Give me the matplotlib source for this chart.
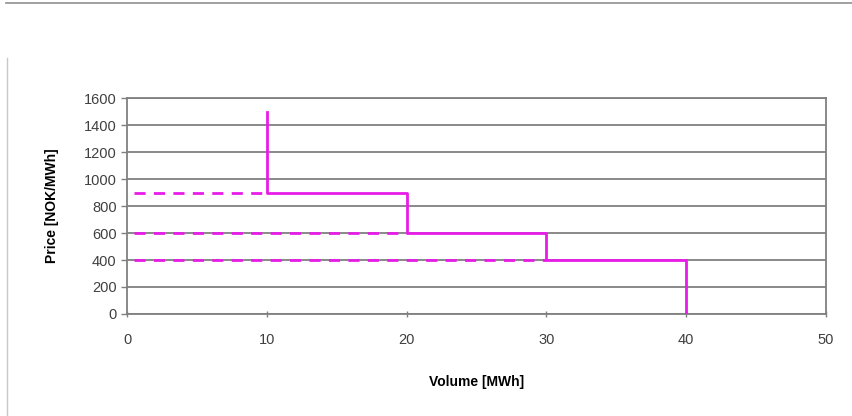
import matplotlib
matplotlib.use('Agg')
import matplotlib.pyplot as plt
from matplotlib.lines import Line2D

plt.rcParams['font.family'] = ['Liberation Sans', 'DejaVu Sans']

# supply curve steps (volume, price)
step_volume = [10, 10, 20, 20, 30, 30, 40, 40]
step_price = [1500, 900, 900, 600, 600, 400, 400, 0]

# dashed price levels and where they end
level_prices = [900, 600, 400]
level_start = 0.5
level_ends = [10, 20, 30]

x_ticks = [0, 10, 20, 30, 40, 50]
y_ticks = [0, 200, 400, 600, 800, 1000, 1200, 1400, 1600]

magenta = '#E81CE8'
grid_gray = '#808080'

fig = plt.figure(figsize=(8.53, 4.16), dpi=100)
ax = fig.add_axes([0.1489, 0.2452, 0.8194, 0.5192])

for p, end in zip(level_prices, level_ends):
    ax.plot([level_start, end], [p, p], color=magenta, lw=2.0,
            dashes=(4, 3), zorder=3)
ax.plot(step_volume, step_price, color=magenta, lw=2.0, zorder=4)

ax.set_xlim(0, 50)
ax.set_ylim(0, 1600)
ax.set_xticks(x_ticks)
ax.set_yticks(y_ticks)
ax.yaxis.grid(True, color=grid_gray, lw=1.3)
ax.set_axisbelow(True)
for s in ax.spines.values():
    s.set_color(grid_gray)
    s.set_linewidth(1.3)
ax.tick_params(axis='both', colors=grid_gray, labelcolor='#404040',
               labelsize=10.5, length=4, width=1)
ax.tick_params(axis='x', direction='inout', pad=12)

ax.set_xlabel('Volume [MWh]', fontsize=10, fontweight='bold', labelpad=20)
ax.set_ylabel('Price [NOK/MWh]', fontsize=10, fontweight='bold', labelpad=18)

# page borders from the original screenshot
fig.add_artist(Line2D([6 / 853, 1], [1 - 3 / 416, 1 - 3 / 416],
                      transform=fig.transFigure, color='#909090', lw=1.2))
fig.add_artist(Line2D([7 / 853, 7 / 853], [0, 1 - 58 / 416],
                      transform=fig.transFigure, color='#c8c8c8', lw=1.0))

fig.savefig('out.png', dpi=100)
